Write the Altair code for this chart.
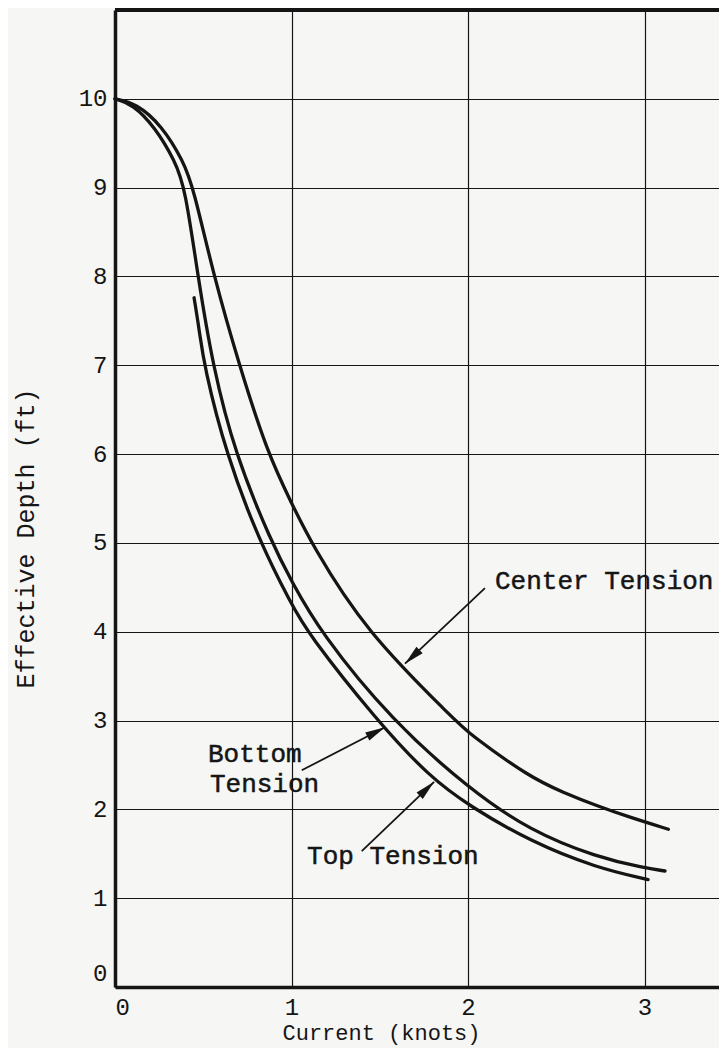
import math
import altair as alt
import pandas as pd

# ---- data ----
center_x = [0, 0.12, 0.265, 0.387, 0.444, 0.56, 0.704, 0.866, 1.0, 1.11, 1.42, 1.93, 2.0, 2.351, 2.54, 2.729, 2.918, 3.135]
center_y = [10, 9.95, 9.70, 9.30, 9.0, 8.0, 7.0, 6.0, 5.45, 5.0, 4.0, 3.0, 2.86, 2.36, 2.19, 2.04, 1.91, 1.776]

bottom_x = [0, 0.10, 0.227, 0.34, 0.397, 0.47, 0.553, 0.68, 0.888, 1.0, 1.161, 1.568, 2.007, 2.35, 2.73, 3.0, 3.116]
bottom_y = [10, 9.94, 9.68, 9.30, 9.0, 8.0, 7.0, 6.0, 5.0, 4.57, 4.0, 3.0, 2.23, 1.76, 1.46, 1.34, 1.306]

top_x = [0.448, 0.478, 0.504, 0.629, 0.822, 1.0, 1.086, 1.483, 1.785, 2.007, 2.35, 2.73, 3.02]
top_y = [7.76, 7.39, 7.0, 6.0, 5.0, 4.31, 4.0, 3.0, 2.36, 2.04, 1.64, 1.34, 1.21]

x_ticks = [0, 1, 2, 3]
y_ticks = [0, 1, 2, 3, 4, 5, 6, 7, 8, 9, 10]

# annotation texts (data coordinates of left edge / vertical centre)
label_text = ["Center Tension", "Bottom", "Tension", "Top Tension"]
label_x = [2.153, 0.527, 0.538, 1.088]
label_y = [4.57, 2.62, 2.28, 1.48]

# arrows: start -> tip (data coordinates)
arrow_x1 = [2.096, 1.058, 1.398]
arrow_y1 = [4.49, 2.44, 1.53]
arrow_x2 = [1.643, 1.53, 1.808]
arrow_y2 = [3.64, 2.925, 2.31]

W = 604
H = 977
X_MAX = 3.422
Y_MAX = 11.0
FONT = "Liberation Mono"
INK = "#151515"
BG = "#f6f6f4"

# ---- tables ----
curves = pd.concat([
    pd.DataFrame({"x": center_x, "y": center_y, "s": "Center Tension"}),
    pd.DataFrame({"x": bottom_x, "y": bottom_y, "s": "Bottom Tension"}),
    pd.DataFrame({"x": top_x, "y": top_y, "s": "Top Tension"}),
], ignore_index=True)

labels = pd.DataFrame({"x": label_x, "y": label_y, "t": label_text})

arrows = pd.DataFrame({"x": arrow_x1, "y": arrow_y1, "x2": arrow_x2, "y2": arrow_y2})
sx = W / X_MAX
sy = H / Y_MAX
angles = []
for a, b, c, d in zip(arrow_x1, arrow_y1, arrow_x2, arrow_y2):
    dx = (c - a) * sx
    dy = -(d - b) * sy
    angles.append(math.degrees(math.atan2(dx, -dy)) % 360)
heads = pd.DataFrame({"x": arrow_x2, "y": arrow_y2, "ang": angles})

xscale = alt.Scale(domain=[0, X_MAX], nice=False, zero=False)
yscale = alt.Scale(domain=[0, Y_MAX], nice=False, zero=False)

x_axis = alt.Axis(
    values=x_ticks, grid=True, gridColor=INK, gridWidth=1.2,
    domain=True, domainColor=INK, domainWidth=3.5, ticks=False,
    labelFont=FONT, labelFontSize=24, labelColor=INK, labelPadding=8,
    title="Current (knots)", titleFont=FONT, titleFontSize=22,
    titleFontWeight="normal", titleColor=INK, titleX=266, titleY=52,
    titleBaseline="alphabetic", titleAlign="center",
)
y_axis = alt.Axis(
    values=y_ticks, grid=True, gridColor=INK, gridWidth=1.2,
    domain=True, domainColor=INK, domainWidth=3.5, ticks=False,
    labelFont=FONT, labelFontSize=24, labelColor=INK, labelPadding=8,
    labelOffset={"condition": {"test": "datum.value == 0", "value": -14}, "value": 0},
    title="Effective Depth (ft)", titleFont=FONT, titleFontSize=25,
    titleFontWeight="normal", titleColor=INK, titleX=-82, titleY=528,
    titleBaseline="alphabetic", titleAlign="center", titleAngle=270,
)

X = alt.X("x:Q", scale=xscale, axis=x_axis)
Y = alt.Y("y:Q", scale=yscale, axis=y_axis)

lines = alt.Chart(curves).mark_line(
    interpolate="basis", strokeWidth=3.3, color=INK, strokeCap="round"
).encode(x=X, y=Y, detail="s:N", order="x:Q")

top_border = alt.Chart(curves).mark_rule(strokeWidth=3.5, color=INK).encode(
    y=alt.datum(Y_MAX, scale=yscale, axis=y_axis)
)

arrow_lines = alt.Chart(arrows).mark_rule(strokeWidth=1.8, color=INK).encode(
    x=X, y=Y, x2="x2:Q", y2="y2:Q",
)

head_shape = "M0,0 L0.45,2 L-0.45,2 Z"
arrow_heads = alt.Chart(heads).mark_point(
    shape=head_shape, filled=True, size=400, color=INK, opacity=1, strokeWidth=0
).encode(x=X, y=Y, angle=alt.Angle("ang:Q", scale=None))

texts = alt.Chart(labels).mark_text(
    align="left", baseline="middle", font=FONT, fontSize=26, color=INK,
    stroke=INK, strokeWidth=0.5
).encode(x=X, y=Y, text="t:N")

chart = alt.layer(lines, top_border, arrow_lines, arrow_heads, texts).properties(
    width=W,
    height=H,
    autosize=alt.AutoSizeParams(type="none"),
    padding={"left": 107, "top": 2, "right": 0, "bottom": 61},
    background=BG,
).configure_view(stroke=None)

chart.save("out.html", embed_options={"renderer": "svg", "actions": False})
